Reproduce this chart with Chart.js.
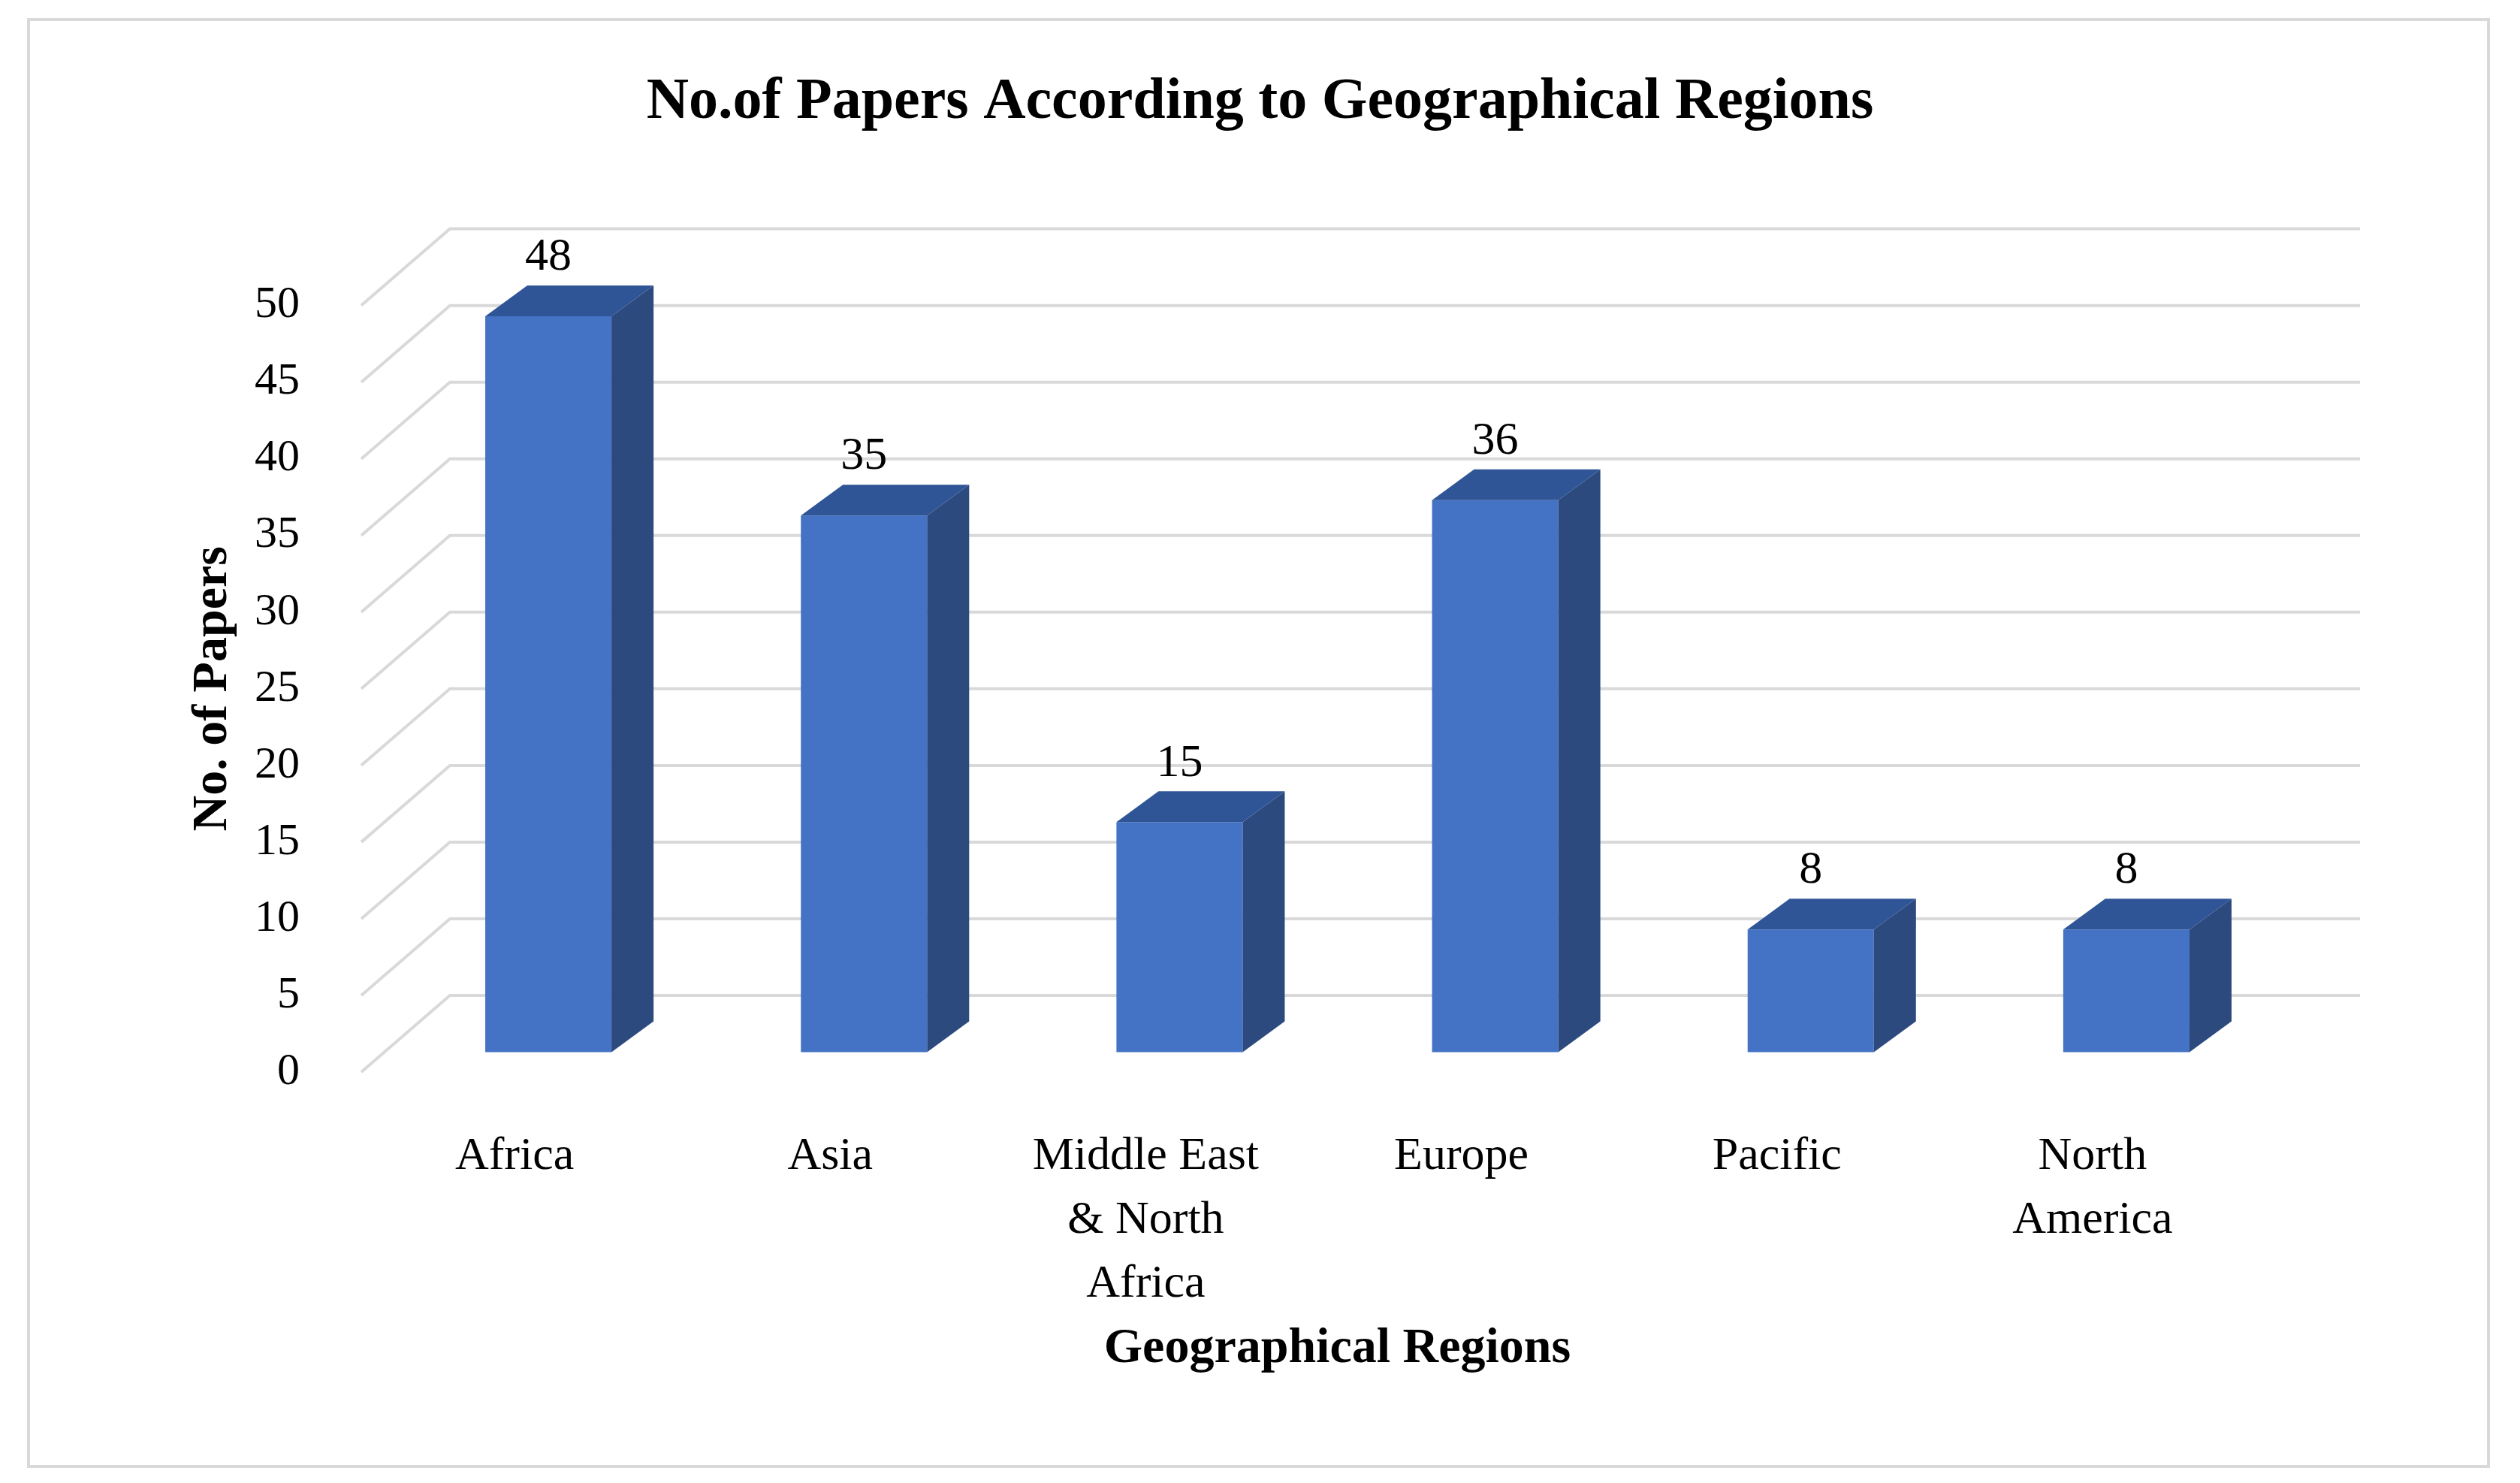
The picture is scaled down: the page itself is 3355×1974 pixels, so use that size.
<!DOCTYPE html>
<html>
<head>
<meta charset="utf-8">
<script src="https://cdn.jsdelivr.net/npm/chart.js@4"></script>
<style>html,body{margin:0;padding:0;background:#fff}</style>
</head>
<body>
<canvas id="c" width="3355" height="1974"></canvas>
<script>
const regions = ['Africa', 'Asia', ['Middle East', '& North', 'Africa'], 'Europe', 'Pacific', ['North', 'America']];
const papers = [48, 35, 15, 36, 8, 8];
const yTicks = [0, 5, 10, 15, 20, 25, 30, 35, 40, 45, 50];

const FONT = '"Liberation Serif", "DejaVu Serif", serif';
const DX = 56, DY = -41;       // bar depth
const WX = 118, WY = -102;     // wall depth

const decor = {
  id: 'decor',
  beforeDraw(chart) {
    const c = chart.ctx;
    c.save();
    c.fillStyle = '#fff';
    c.fillRect(0, 0, chart.width, chart.height);
    c.strokeStyle = '#d9d9d9';
    c.lineWidth = 4;
    c.strokeRect(38, 26, 3275, 1926);
    c.restore();
  },
  beforeDatasetsDraw(chart) {
    const c = chart.ctx, y = chart.scales.y;
    const x0 = chart.chartArea.left - 39, x1 = 3142;
    c.save();
    c.strokeStyle = '#d9d9d9';
    c.lineWidth = 4;
    yTicks.forEach(v => {
      const py = y.getPixelForValue(v);
      c.beginPath();
      c.moveTo(x0, py);
      c.lineTo(x0 + WX, py + WY);
      c.lineTo(x1, py + WY);
      c.stroke();
    });
    c.restore();
  },
  afterDatasetsDraw(chart) {
    const c = chart.ctx;
    const meta = chart.getDatasetMeta(0);
    c.save();
    meta.data.forEach((b, i) => {
      const l = b.x - b.width / 2, r = b.x + b.width / 2;
      c.fillStyle = '#2c4a7e';
      c.beginPath();
      c.moveTo(r, b.y); c.lineTo(r + DX, b.y + DY);
      c.lineTo(r + DX, b.base + DY); c.lineTo(r, b.base);
      c.closePath(); c.fill();
      c.fillStyle = '#2f5597';
      c.beginPath();
      c.moveTo(l, b.y); c.lineTo(l + DX, b.y + DY);
      c.lineTo(r + DX, b.y + DY); c.lineTo(r, b.y);
      c.closePath(); c.fill();
      c.fillStyle = '#000';
      c.font = '62px ' + FONT;
      c.textAlign = 'center';
      c.textBaseline = 'bottom';
      c.fillText(papers[i], b.x, b.y + DY - 6);
    });
    c.restore();
  }
};

new Chart(document.getElementById('c'), {
  type: 'bar',
  data: {
    labels: regions,
    datasets: [{
      data: papers,
      yAxisID: 'yb',
      backgroundColor: '#4472c4',
      categoryPercentage: 0.8,
      barPercentage: 0.5
    }]
  },
  options: {
    responsive: false,
    animation: false,
    devicePixelRatio: 1,
    plugins: {
      legend: { display: false },
      tooltip: { enabled: false },
      title: {
        display: true,
        text: 'No.of Papers According to Geographical Regions',
        color: '#000',
        font: { family: FONT, size: 78, weight: 'bold' },
        padding: { top: 90, bottom: 223 }
      }
    },
    scales: {
      x: {
        grid: { display: false },
        border: { display: false },
        afterFit(s) { s.height = 547; },
        ticks: { color: '#000', padding: 62, maxRotation: 0, labelOffset: -45,
                 font: { family: FONT, size: 62, lineHeight: 1.37 } },
        title: {
          display: true, text: 'Geographical Regions', color: '#000',
          font: { family: FONT, size: 66, weight: 'bold' },
          padding: { top: 138, bottom: 138 }
        }
      },
      y: {
        min: 0, max: 50,
        afterFit(s) { s.width = 520; },
        afterBuildTicks(s) { s.ticks = yTicks.map(v => ({ value: v })); },
        grid: { display: false },
        border: { display: false },
        ticks: { color: '#000', padding: 113, font: { family: FONT, size: 60 } },
        title: {
          display: true, text: 'No. of Papers', color: '#000',
          font: { family: FONT, size: 66, weight: 'bold' },
          padding: { top: 244, bottom: 244 }
        }
      },
      yb: {
        min: -1.3, max: 48.7,
        display: false
      },
      yr: {
        position: 'right',
        display: true,
        afterFit(s) { s.width = 314; },
        grid: { display: false },
        border: { display: false },
        ticks: { display: false }
      }
    }
  },
  plugins: [decor]
});
</script>
</body>
</html>
